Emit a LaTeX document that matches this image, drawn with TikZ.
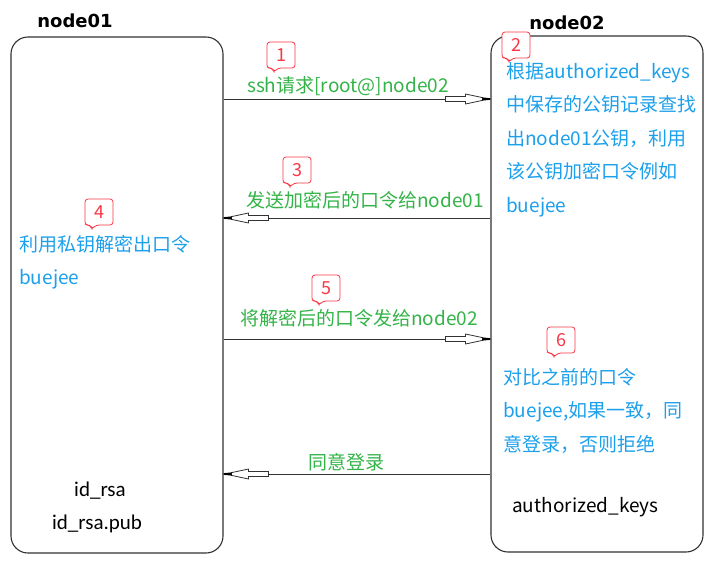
\documentclass[tikz,border=0pt]{standalone}
\usepackage{fontspec}
\newfontfamily\cjk{Noto Sans CJK SC}
\newfontfamily\hdfont{DejaVu Sans}
\newfontfamily\calfont{Carlito}
\definecolor{grn}{RGB}{52,180,72}
\definecolor{blu}{RGB}{28,160,236}
\definecolor{rd}{RGB}{250,55,70}
\definecolor{edge}{RGB}{50,50,50}
\tikzset{
  box/.style={draw=edge, line width=1.1pt, rounded corners=17pt, minimum width=212pt, minimum height=516pt, inner sep=0pt},
  head/.style={font=\hdfont\bfseries\fontsize{18}{20}\selectfont, anchor=base, inner sep=0pt},
  gtxt/.style={font=\cjk\fontsize{19}{22}\selectfont, text=grn, anchor=base, inner sep=0pt},
  btxt/.style={font=\cjk\fontsize{19}{33.5}\selectfont, text=blu, align=left, anchor=north west, inner sep=0pt},
  ktxt/.style={font=\cjk\fontsize{19}{22}\selectfont, text=black, anchor=base west, inner sep=0pt},
  ftxt/.style={font=\calfont\fontsize{21}{24}\selectfont, text=black, anchor=base, inner sep=0pt},
  msg/.style={draw=edge, line width=0.9pt},
  callout/.pic={
    \draw[rd, line width=0.8pt, rounded corners=3pt, fill=white]
      (14,-13) -- (14,13) -- (-3,13) -- (-7,17) -- (-9,13) -- (-14,13) -- (-14,-13) -- cycle;
    \node[font=\cjk\fontsize{18}{20}\selectfont, text=rd, inner sep=0pt] at (0,0) {#1};
  },
  harrow/.pic={
    \draw[edge, line width=0.8pt, fill=white]
      (-45,-2.5) -- (-25,-2.5) -- (-25,-5) -- (-8,-1.4) -- (-8,1.4) -- (-25,5) -- (-25,2.5) -- (-45,2.5) -- cycle;
    \fill[black] (-8,-1.6) -- (0,-0.8) -- (0,0.8) -- (-8,1.6) -- cycle;
  }
}
\begin{document}
\begin{tikzpicture}[x=1pt, y=-1pt]
\useasboundingbox (0,0) rectangle (711,562);
\fill[white] (0,0) rectangle (711,562);

% boxes
\node[box] (n1) at (117,295) {};
\node[box] (n2) at (597,294) {};
\node[head] (h1) at (75,27) {node01};
\node[head] (h2) at (567,29) {node02};

% message rows
\coordinate (r1) at (0,99);
\coordinate (r3) at (0,218);
\coordinate (r5) at (0,339);
\coordinate (r6) at (0,474);

\draw[msg] (n1.east |- r1) -- (n2.west |- r1);
\pic at (n2.west |- r1) {harrow};
\draw[msg] (n2.west |- r3) -- (n1.east |- r3);
\pic[rotate=180] at (n1.east |- r3) {harrow};
\draw[msg] (n1.east |- r5) -- (n2.west |- r5);
\pic at (n2.west |- r5) {harrow};
\draw[msg] (n2.west |- r6) -- (n1.east |- r6);
\pic[rotate=180] at (n1.east |- r6) {harrow};

% green labels
\node[gtxt] (t1) at (348,92) {ssh请求[root@]node02};
\node[gtxt] (t3) at (365,207) {发送加密后的口令给node01};
\node[gtxt] (t5) at (359,325) {将解密后的口令发给node02};
\node[gtxt] (t6) at (346,469) {同意登录};

% blue texts
\node[btxt] (b2) at (506,62) {根据authorized\_keys\\中保存的公钥记录查找\\出node01公钥，利用\\该公钥加密口令例如\\buejee};
\node[btxt] (b4) at (19,235) {利用私钥解密出口令\\buejee};
\node[btxt] (b6) at (503,368) {对比之前的口令\\buejee,如果一致，同\\意登录，否则拒绝};

% file names
\node[ftxt] (f1) at (100,496) {id\_rsa};
\node[ftxt] (f2) at (97,529) {id\_rsa.pub};
\node[ktxt] (f3) at (512,512) {authorized\_keys};

% callouts
\pic at (281,55) {callout=1};
\pic at (516,45) {callout=2};
\pic at (297,170) {callout=3};
\pic at (99,212) {callout=4};
\pic at (326,288) {callout=5};
\pic at (561,340) {callout=6};
\end{tikzpicture}
\end{document}
